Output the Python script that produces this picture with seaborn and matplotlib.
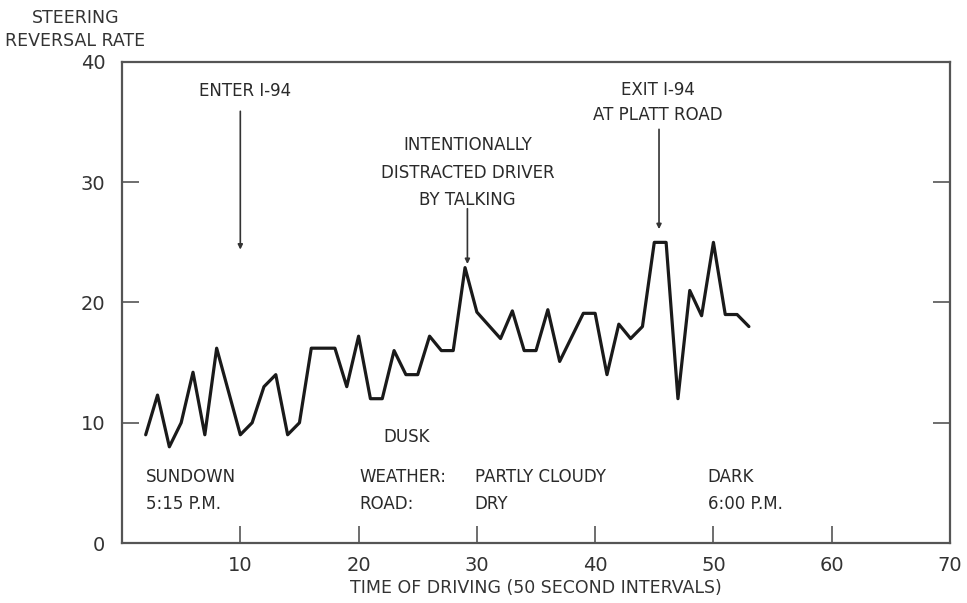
import matplotlib
matplotlib.use("Agg")
import matplotlib.pyplot as plt
import seaborn as sns
import pandas as pd

# ---- data ----
interval = list(range(2, 54))
reversal_rate = [9, 12.3, 8, 10, 14.2, 9, 16.2, 12.6, 9, 10,
                 13, 14, 9, 10, 16.2, 16.2, 16.2, 13, 17.2, 12,
                 12, 16, 14, 14, 17.2, 16, 16, 22.9, 19.2, 18.1,
                 17, 19.3, 16, 16, 19.4, 15.1, 17.1, 19.1, 19.1, 14,
                 18.2, 17, 18, 25, 25, 12, 21, 18.9, 25, 19,
                 19, 18]
x_ticks = [10, 20, 30, 40, 50, 60, 70]
y_ticks = [0, 10, 20, 30, 40]

df = pd.DataFrame({"interval": interval, "rate": reversal_rate})

sns.set_style("white")
plt.rcParams["font.family"] = ["DejaVu Sans"]

fig = plt.figure(figsize=(9.67, 6.03), dpi=100)
ax = fig.add_axes([0.1262, 0.0995, 0.8562, 0.7977])

sns.lineplot(data=df, x="interval", y="rate", ax=ax, color="#1a1a1a",
             linewidth=2.3, estimator=None)

ax.set_xlim(0, 70)
ax.set_ylim(0, 40)
ax.set_xticks(x_ticks)
ax.set_yticks(y_ticks)
ax.set_xticklabels([str(t) for t in x_ticks], fontsize=14)
ax.set_yticklabels([str(t) for t in y_ticks], fontsize=14)
ax.tick_params(axis="both", direction="in", length=12, width=1.2,
               colors="#555555", labelcolor="#333333")
ax.tick_params(axis="x", pad=9, bottom=True, top=False)
ax.tick_params(axis="y", pad=12, left=True, right=True)
for s in ax.spines.values():
    s.set_color("#555555")
    s.set_linewidth(1.6)
    s.set_visible(True)

ax.set_xlabel("TIME OF DRIVING (50 SECOND INTERVALS)", fontsize=12.5,
              color="#333333", labelpad=3)
ax.set_ylabel("")
fig.text(0.078, 0.951, "STEERING\nREVERSAL RATE", ha="center", va="center",
         fontsize=12.5, color="#333333", linespacing=1.35)

tc = "#2a2a2a"
fs = 12
arrow = dict(arrowstyle="-|>", lw=1.2, color="#333333", mutation_scale=7,
             shrinkA=0, shrinkB=0)

ax.text(10.4, 37.6, "ENTER I-94", ha="center", va="center", fontsize=fs, color=tc)
ax.annotate("", xy=(10, 24.4), xytext=(10, 35.9), arrowprops=arrow)

ax.text(29.2, 30.8, "INTENTIONALLY\nDISTRACTED DRIVER\nBY TALKING",
        ha="center", va="center", fontsize=fs, color=tc, linespacing=1.7)
ax.annotate("", xy=(29.2, 23.2), xytext=(29.2, 27.8), arrowprops=arrow)

ax.text(45.3, 36.6, "EXIT I-94\nAT PLATT ROAD", ha="center", va="center",
        fontsize=fs, color=tc, linespacing=1.5)
ax.annotate("", xy=(45.4, 26.1), xytext=(45.4, 34.4), arrowprops=arrow)

ax.text(24.1, 8.8, "DUSK", ha="center", va="center", fontsize=fs, color=tc)

ls = 1.65
ax.text(2.0, 4.35, "SUNDOWN\n5:15 P.M.", ha="left", va="center", fontsize=fs,
        color=tc, linespacing=ls)
ax.text(20.1, 4.35, "WEATHER:\nROAD:", ha="left", va="center", fontsize=fs,
        color=tc, linespacing=ls)
ax.text(29.8, 4.35, "PARTLY CLOUDY\nDRY", ha="left", va="center", fontsize=fs,
        color=tc, linespacing=ls)
ax.text(49.5, 4.35, "DARK\n6:00 P.M.", ha="left", va="center", fontsize=fs,
        color=tc, linespacing=ls)

fig.savefig("out.png", dpi=100)
